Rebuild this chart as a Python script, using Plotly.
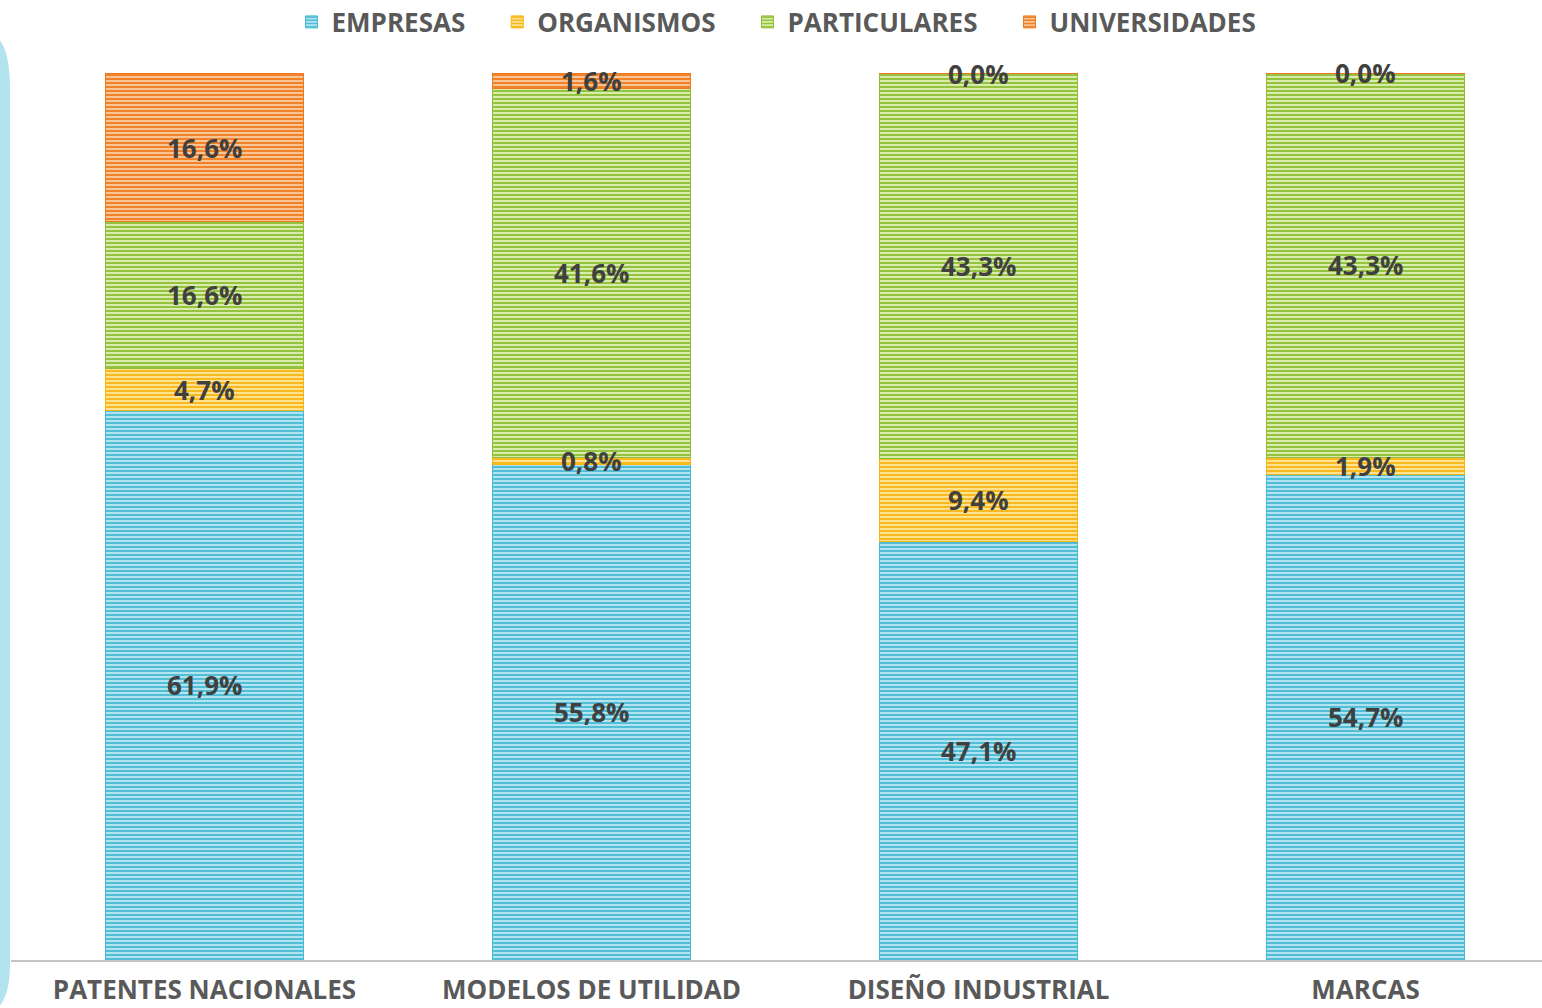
import plotly.graph_objects as go

# Share of applications by applicant type (%)
categories = ["PATENTES NACIONALES", "MODELOS DE UTILIDAD", "DISEÑO INDUSTRIAL", "MARCAS"]
empresas = [61.9, 55.8, 47.1, 54.7]
organismos = [4.7, 0.8, 9.4, 1.9]
particulares = [16.6, 41.6, 43.3, 43.3]
universidades = [16.6, 1.6, 0.0, 0.0]

series = [
    ("EMPRESAS", empresas, "#47b9d4", "#b2e4ef"),
    ("ORGANISMOS", organismos, "#f7b512", "#fde28f"),
    ("PARTICULARES", particulares, "#8fbe35", "#d8ecac"),
    ("UNIVERSIDADES", universidades, "#ee7a1f", "#f9c594"),
]

W, H = 1542, 1008
ML, MR, MT, MB = 11, 0, 73, 48
PW, PH = W - ML - MR, H - MT - MB


def px_x(p):
    return (p - ML) / PW


def px_y(p):
    return (H - MB - p) / PH


fig = go.Figure()

for i, (name, vals, dark, light) in enumerate(series):
    pad = "\u00a0" * 4 if i < len(series) - 1 else ""
    fig.add_trace(go.Bar(
        name=name + pad,
        x=categories,
        y=vals,
        width=0.512,
        marker=dict(
            color=dark,
            line=dict(color=dark, width=1),
            pattern=dict(shape="-", fgcolor=dark, bgcolor=light,
                         size=4, solidity=0.45, fillmode="replace"),
        ),
        hoverinfo="skip",
    ))

# value labels centred on each stacked segment
base = [0.0] * len(categories)
for name, vals, dark, light in series:
    for cat, b, v in zip(categories, base, vals):
        fig.add_annotation(
            x=cat, y=b + v / 2,
            xref="x", yref="y",
            text=f"{v:.1f}".replace(".", ",") + "%",
            showarrow=False,
            font=dict(family="Open Sans", size=26, color="#404040", weight=700),
        )
    base = [b + v for b, v in zip(base, vals)]

# light blue rounded frame edge on the left
x1 = px_x(10)
path = (
    f"M {px_x(-2)},{px_y(38)} "
    f"Q {x1},{px_y(50)} {x1},{px_y(90)} "
    f"L {x1},{px_y(965)} "
    f"Q {x1},{px_y(995)} {px_x(-2)},{px_y(1008)} Z"
)
fig.add_shape(type="path", path=path, xref="paper", yref="paper",
              fillcolor="#b3e3ee", line=dict(width=0), layer="below")

fig.update_layout(
    width=W, height=H,
    margin=dict(l=ML, r=MR, t=MT, b=MB, autoexpand=False),
    barmode="stack",
    plot_bgcolor="white",
    paper_bgcolor="white",
    showlegend=True,
    legend=dict(
        orientation="h",
        x=0.5, xanchor="center",
        y=px_y(22), yanchor="middle",
        font=dict(family="Open Sans", size=26, color="#595959", weight=700),
        itemwidth=30,
        traceorder="normal",
    ),
    xaxis=dict(
        range=[-0.5, -0.5 + PW / 387.0],
        automargin=False,
        showgrid=False,
        showline=True,
        linecolor="#c4c4c4",
        linewidth=2,
        ticks="",
        tickfont=dict(family="Open Sans", size=26, color="#595959", weight=700),
        ticklabelstandoff=6,
    ),
    yaxis=dict(
        range=[0, 99.9],
        visible=False,
    ),
)

fig.write_html("out.html")
